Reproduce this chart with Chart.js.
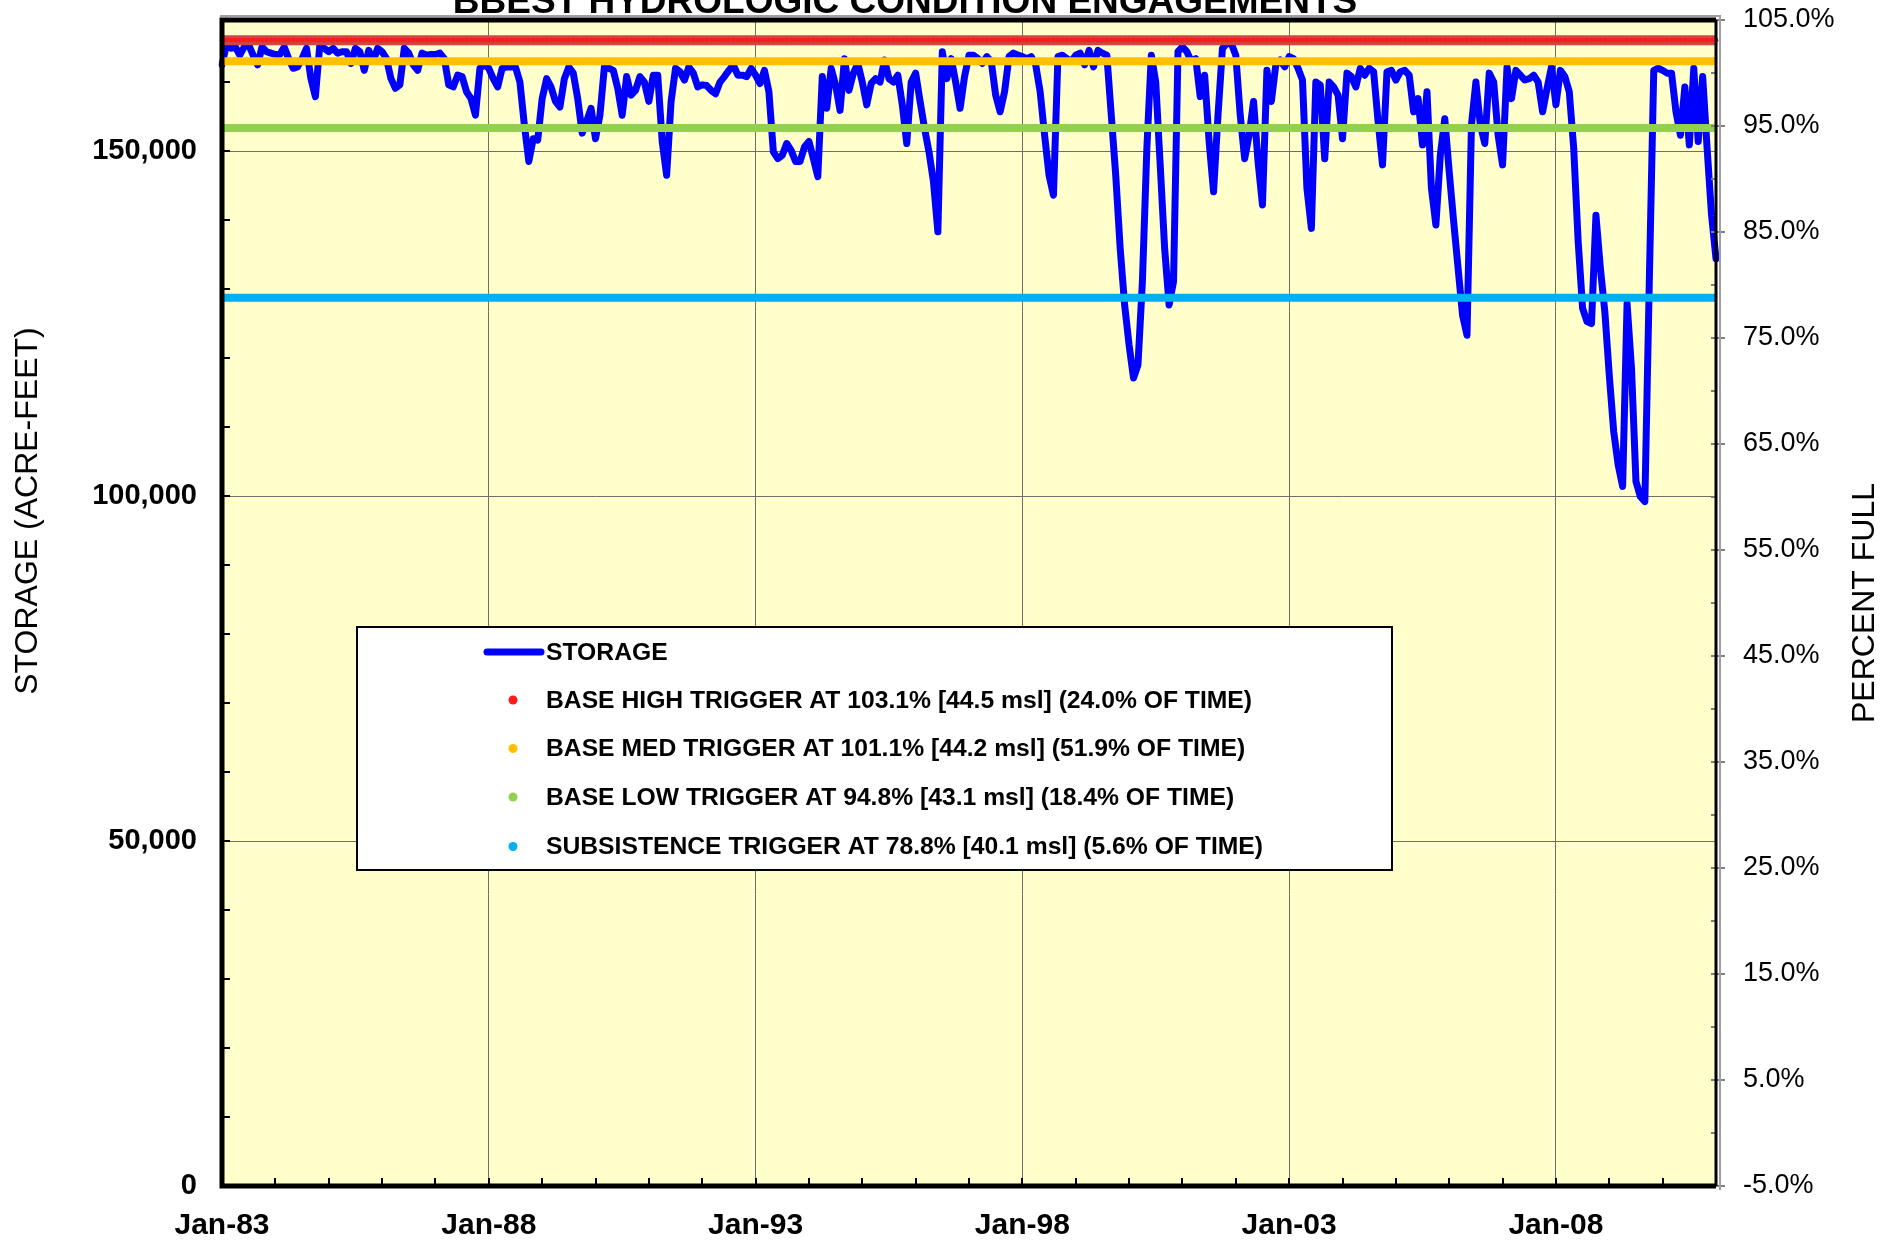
<!DOCTYPE html>
<html><head><meta charset="utf-8">
<script src="https://cdn.jsdelivr.net/npm/chart.js@4.4.1/dist/chart.umd.min.js"></script>
<style>html,body{margin:0;padding:0;background:#fff;}canvas{display:block;}</style>
</head><body>
<canvas id="c" width="1898" height="1241"></canvas>
<script>
const FONT = "'Liberation Sans', Arial, Helvetica, sans-serif";
const titleText = 'BBEST HYDROLOGIC CONDITION ENGAGEMENTS';
const leftAxisTitle = 'STORAGE (ACRE-FEET)';
const rightAxisTitle = 'PERCENT FULL';
const monthNames = ['Jan','Feb','Mar','Apr','May','Jun','Jul','Aug','Sep','Oct','Nov','Dec'];
const firstYear = 1983, lastYear = 2011;

// monthly categories Jan-83 ... Jan-11
const months = [];
for (let y = firstYear; y <= lastYear; y++) {
  for (let m = 0; m < 12; m++) {
    if (y === lastYear && m > 0) break;
    months.push(monthNames[m] + '-' + String(y % 100).padStart(2, '0'));
  }
}

// storage, acre-feet
const storage = [
162500,165400,164900,165100,163900,165100,165400,163900,162500,165100,
164400,164200,164000,164000,165100,163400,162000,162200,163400,164900,
160500,157900,165400,164900,164400,164900,164200,164400,164400,162700,
164900,164400,161700,164600,163000,164900,164400,163400,160500,159100,
159600,164900,164200,162500,161700,164200,163900,164000,164000,164200,
163400,159600,159300,161000,160800,158600,157600,155200,162000,162500,
162000,160500,159300,162000,162200,162200,162200,160000,153800,148500,
151800,151600,157600,160500,159300,157200,156400,160500,162200,161300,
157600,152600,154300,156200,151800,155200,162200,162000,161700,159100,
155200,160800,158100,158800,160800,160000,157200,161000,161000,151400,
146500,157200,162000,161500,160300,162200,161300,159300,159600,159500,
158800,158300,160000,160800,161700,162500,161000,161000,160800,162000,
161000,159800,161700,158600,149900,148900,149400,151100,150100,148500,
148500,150600,151400,148900,146300,160800,156200,162000,159600,155900,
163400,158800,161300,162700,160000,156700,159800,160500,160000,163200,
160500,160000,161000,156700,151100,160000,161300,157200,153300,149900,
145600,138300,164400,160500,163400,160000,156200,160800,163900,163900,
163400,162700,163700,163000,158100,155700,158600,163700,164200,163900,
163700,163400,163700,162500,158600,152300,146500,143600,163700,163900,
163400,163000,163900,164200,162500,164600,162200,164600,164200,163900,
155200,146500,135900,127700,121900,117100,119000,131100,150400,163900,
160000,148000,135900,127700,131100,164400,165100,164400,163000,163400,
157900,161000,151400,144100,155200,164900,165600,165600,163900,155200,
148900,152300,157200,148500,142200,161700,157200,162500,163200,162200,
163700,163400,162000,160300,144600,138800,160000,159600,148900,160000,
159300,158100,151800,161300,160800,159300,162000,161000,162000,161500,
154300,148000,161500,161700,160300,161500,161700,161000,155700,157600,
150900,158600,144600,139300,149400,154700,147000,139800,133000,126200,
123300,153800,160000,153800,151100,161300,160000,152300,148000,162200,
157600,161700,161000,160300,160500,161000,160000,155700,159100,162200,
156700,161700,160800,158600,150400,136900,127200,125300,125000,140700,
133000,126700,117500,109300,104500,101400,127900,118500,102100,99900,
99200,131100,161700,162000,161700,161300,161300,155700,152300,159300,
150900,162000,151400,160800,150400,140700,134400
];

const storageLabel = 'STORAGE';
const triggerLabels = [
  'BASE HIGH TRIGGER AT 103.1% [44.5 msl] (24.0% OF TIME)',
  'BASE MED TRIGGER AT 101.1% [44.2 msl] (51.9% OF TIME)',
  'BASE LOW TRIGGER AT 94.8% [43.1 msl] (18.4% OF TIME)',
  'SUBSISTENCE TRIGGER AT 78.8% [40.1 msl] (5.6% OF TIME)'
];
const triggerPercents = [103.1, 101.1, 94.8, 78.8];
const triggerLineColors = ['#cf4646', '#ffc000', '#92d050', '#00b0f0'];
const triggerDotColors = ['#ff1a1a', '#ffc000', '#92d050', '#00b0f0'];

const leftMin = 0, leftMax = 169000, leftMinorStep = 10000;
const leftTickValues = [0, 50000, 100000, 150000];
const rightMin = -5, rightMax = 105, rightStep = 10;
const xLabelEvery = 60, xTickEvery = 12;

const datasets = [];
triggerPercents.forEach((p, k) => {
  datasets.push({
    label: triggerLabels[k],
    data: months.map(() => p),
    yAxisID: 'y1',
    borderColor: triggerLineColors[k],
    borderWidth: k === 0 ? 10 : 8,
    pointRadius: k === 0 ? 2.4 : 0,
    pointBackgroundColor: triggerDotColors[k],
    pointBorderWidth: 0,
    tension: 0,
    order: 0
  });
});
datasets.push({
  label: storageLabel,
  data: storage,
  yAxisID: 'y',
  borderColor: '#0000ff',
  borderWidth: 7,
  pointRadius: 0,
  tension: 0,
  borderJoinStyle: 'round',
  borderCapStyle: 'round',
  order: 1
});

function noPad(s) { s.paddingTop = 0; s.paddingBottom = 0; s.paddingLeft = 0; s.paddingRight = 0; }

const decor = {
  id: 'decor',
  beforeDraw(chart) {
    const {ctx, chartArea: a} = chart;
    ctx.save();
    ctx.fillStyle = '#ffffcc';
    ctx.fillRect(a.left, a.top, a.right - a.left, a.bottom - a.top);
    ctx.restore();
  },
  afterDatasetsDraw(chart) {
    const {ctx, chartArea: a, scales} = chart;
    ctx.save();
    // left axis inward ticks every 10,000
    ctx.strokeStyle = '#000'; ctx.lineWidth = 2;
    for (let v = leftMin; v <= leftMax; v += leftMinorStep) {
      const y = Math.round(scales.y.getPixelForValue(v));
      ctx.beginPath(); ctx.moveTo(a.left, y); ctx.lineTo(a.left + 8, y); ctx.stroke();
    }
    // bottom axis inward ticks every year
    for (let i = 0; i < months.length; i += xTickEvery) {
      const x = Math.round(scales.x.getPixelForValue(i));
      ctx.beginPath(); ctx.moveTo(x, a.bottom); ctx.lineTo(x, a.bottom - 8); ctx.stroke();
    }
    // right axis ticks
    ctx.strokeStyle = '#808080'; ctx.lineWidth = 2;
    for (let v = rightMin; v <= rightMax + 0.01; v += rightStep / 2) {
      const y = Math.round(scales.y1.getPixelForValue(v));
      const major = Math.abs(((v - rightMin) / rightStep) % 1) < 0.01;
      ctx.beginPath(); ctx.moveTo(a.right - 5, y); ctx.lineTo(major ? a.right + 9 : a.right, y); ctx.stroke();
    }
    // frame
    ctx.strokeStyle = '#a0a0a0'; ctx.lineWidth = 2;
    ctx.beginPath(); ctx.moveTo(a.left - 2, a.top - 4); ctx.lineTo(a.right + 4, a.top - 4); ctx.lineTo(a.right + 4, a.bottom + 4); ctx.stroke();
    ctx.strokeStyle = '#000'; ctx.lineWidth = 5;
    ctx.beginPath();
    ctx.moveTo(a.left, a.top); ctx.lineTo(a.right, a.top);
    ctx.moveTo(a.left, a.top - 2.5); ctx.lineTo(a.left, a.bottom + 2.5);
    ctx.moveTo(a.left, a.bottom); ctx.lineTo(a.right, a.bottom);
    ctx.stroke();
    ctx.lineWidth = 3;
    ctx.beginPath(); ctx.moveTo(a.right, a.top); ctx.lineTo(a.right, a.bottom); ctx.stroke();
    ctx.restore();
  },
  afterDraw(chart) {
    const {ctx} = chart;
    ctx.save();
    // title (partly cut off at top)
    ctx.fillStyle = '#000';
    ctx.font = 'bold 37px ' + FONT;
    ctx.textAlign = 'center'; ctx.textBaseline = 'alphabetic';
    ctx.fillText(titleText, 905, 13);
    // axis titles
    ctx.font = '32px ' + FONT;
    ctx.textBaseline = 'middle';
    ctx.save(); ctx.translate(28, 511); ctx.rotate(-Math.PI / 2); ctx.fillText(leftAxisTitle, 0, 0); ctx.restore();
    ctx.save(); ctx.translate(1865, 603); ctx.rotate(-Math.PI / 2); ctx.fillText(rightAxisTitle, 0, 0); ctx.restore();
    // legend
    const bx = 357, by = 627, bw = 1035, bh = 243;
    ctx.fillStyle = '#fff'; ctx.fillRect(bx, by, bw, bh);
    ctx.strokeStyle = '#000'; ctx.lineWidth = 2; ctx.strokeRect(bx, by, bw, bh);
    const rows = [652, 700, 748.5, 797, 846.5];
    ctx.strokeStyle = '#0000ff'; ctx.lineWidth = 7; ctx.lineCap = 'round';
    ctx.beginPath(); ctx.moveTo(487, rows[0]); ctx.lineTo(541, rows[0]); ctx.stroke();
    ctx.font = 'bold 24.7px ' + FONT; ctx.textAlign = 'left'; ctx.textBaseline = 'middle';
    ctx.fillStyle = '#000'; ctx.fillText(storageLabel, 546, rows[0] + 1);
    triggerLabels.forEach((t, k) => {
      ctx.fillStyle = triggerDotColors[k];
      ctx.beginPath(); ctx.arc(513, rows[k + 1], 4.5, 0, Math.PI * 2); ctx.fill();
      ctx.fillStyle = '#000'; ctx.fillText(t, 546, rows[k + 1] + 1);
    });
    ctx.restore();
  }
};

new Chart(document.getElementById('c'), {
  type: 'line',
  data: { labels: months, datasets },
  options: {
    responsive: false, animation: false, devicePixelRatio: 1,
    layout: { padding: { top: 20, left: 0, right: 0, bottom: 0 } },
    plugins: { legend: { display: false }, title: { display: false }, tooltip: { enabled: false } },
    scales: {
      x: {
        type: 'category', offset: false,
        afterFit(s) { s.height = 1241 - 1186; noPad(s); },
        grid: { color: '#6e6e6e', lineWidth: 1, drawTicks: false },
        border: { display: false },
        ticks: {
          autoSkip: false, maxRotation: 0, minRotation: 0, padding: 22,
          color: '#000', font: { family: FONT, size: 30, weight: 'bold' },
          callback(v, i) { return i % xLabelEvery === 0 ? months[i] : null; }
        }
      },
      y: {
        position: 'left', min: leftMin, max: leftMax,
        afterBuildTicks(s) { s.ticks = leftTickValues.map(v => ({ value: v })); },
        afterFit(s) { s.width = 222; noPad(s); },
        grid: { color: '#6e6e6e', lineWidth: 1, drawTicks: false },
        border: { display: false },
        ticks: {
          autoSkip: false, padding: 25, color: '#000',
          font: { family: FONT, size: 29, weight: 'bold' },
          callback(v) { return v.toLocaleString('en-US'); }
        }
      },
      y1: {
        position: 'right', min: rightMin, max: rightMax,
        afterFit(s) { s.width = 1898 - 1716; noPad(s); },
        grid: { display: false, drawTicks: false },
        border: { display: false },
        ticks: {
          stepSize: rightStep, autoSkip: false, padding: 27, color: '#000',
          font: { family: FONT, size: 27 },
          callback(v) { return v.toFixed(1) + '%'; }
        }
      }
    }
  },
  plugins: [decor]
});
</script>
</body></html>
